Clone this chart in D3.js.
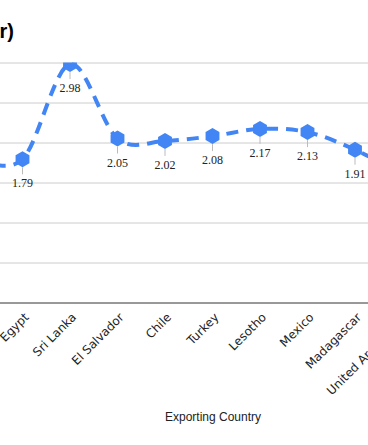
<!DOCTYPE html>
<html>
<head>
<meta charset="utf-8">
<script src="https://cdn.jsdelivr.net/npm/d3@7"></script>
<style>
  html, body { margin: 0; padding: 0; background: #fff; overflow: hidden; }
  svg { display: block; }
</style>
</head>
<body>
<svg id="chart" width="368" height="445"></svg>
<script>
// ---- Data (chart is cropped on both sides) ----
const categories = ["India", "Egypt", "Sri Lanka", "El Salvador", "Chile", "Turkey", "Lesotho", "Mexico", "Madagascar", "United Arab Emirates"];
const prices = [1.81, 1.79, 2.98, 2.05, 2.02, 2.08, 2.17, 2.13, 1.91, 1.60];
const yTicks = [0, 0.5, 1, 1.5, 2, 2.5, 3];
const titleText = "Average Export Price by Country (USD per Dollar)";
const xTitle = "Exporting Country";

const svg = d3.select("#chart");
const plotTop = 62.5, plotBottom = 302.5, plotLeft = -60, plotRight = 440;

const x = d3.scalePoint().domain(categories).range([-25, 402.5]);
const y = d3.scaleLinear().domain([0, 3]).range([plotBottom, plotTop]);

// Title (cropped on the left)
svg.append("text")
  .attr("x", 14).attr("y", 38)
  .attr("text-anchor", "end")
  .attr("font-family", "Arial, 'Liberation Sans', sans-serif")
  .attr("font-weight", "bold")
  .attr("font-size", 20)
  .attr("fill", "#000")
  .text(titleText);

// Gridlines
const gridAxis = d3.axisLeft(y).tickValues(yTicks).tickSize(-(plotRight - plotLeft)).tickFormat(d => d.toFixed(1));
const g = svg.append("g").attr("transform", `translate(${plotLeft},0)`).call(gridAxis);
g.select(".domain").remove();
g.selectAll(".tick line").attr("stroke", d => d === 0 ? "#333" : "#ccc").attr("stroke-width", 1);
g.selectAll(".tick text").attr("font-family", "Arial, sans-serif").attr("font-size", 11).attr("fill", "#444");

// Clip for plot area
svg.append("defs").append("clipPath").attr("id", "plot")
  .append("rect").attr("x", plotLeft).attr("y", plotTop).attr("width", plotRight - plotLeft).attr("height", plotBottom - plotTop);

const data = categories.map((c, i) => ({ c, v: prices[i] }));

const plot = svg.append("g").attr("clip-path", "url(#plot)");

const line = d3.line().x(d => x(d.c)).y(d => y(d.v)).curve(d3.curveCardinal.tension(0));
plot.append("path").datum(data)
  .attr("d", line)
  .attr("fill", "none")
  .attr("stroke", "#4285f4")
  .attr("stroke-width", 4)
  .attr("stroke-dasharray", "12,8");

// Hexagon markers (pointy top)
const r = 8;
const hex = d3.range(6).map(k => {
  const a = Math.PI / 2 + k * Math.PI / 3;
  return [r * Math.cos(a), r * Math.sin(a)];
});
plot.selectAll("path.marker").data(data).join("path")
  .attr("class", "marker")
  .attr("transform", d => `translate(${x(d.c)},${y(d.v)})`)
  .attr("d", "M" + hex.map(p => p.join(",")).join("L") + "Z")
  .attr("fill", "#4285f4");

// Data labels with leader lines
const lab = svg.append("g");
lab.selectAll("line").data(data).join("line")
  .attr("x1", d => x(d.c)).attr("x2", d => x(d.c))
  .attr("y1", d => y(d.v) + 8).attr("y2", d => y(d.v) + 15)
  .attr("stroke", "#bbb").attr("stroke-width", 1);
lab.selectAll("text").data(data).join("text")
  .attr("x", d => x(d.c))
  .attr("y", d => y(d.v) + 28)
  .attr("text-anchor", "middle")
  .attr("font-family", "'Liberation Serif', 'Times New Roman', serif")
  .attr("font-size", 12)
  .attr("fill", "#222")
  .text(d => d.v.toFixed(2));

// X category labels, rotated; long labels are shortened with an ellipsis
const maxLabelLen = 112;
svg.append("g").selectAll("text").data(categories).join("text")
  .attr("transform", d => `translate(${x(d) + 7},${318}) rotate(-45)`)
  .attr("text-anchor", "end")
  .attr("font-family", "'DejaVu Sans', Verdana, sans-serif")
  .attr("font-size", 12)
  .attr("fill", "#222")
  .text(d => d)
  .each(function(d) {
    const t = d3.select(this);
    if (this.getComputedTextLength() <= maxLabelLen) return;
    let s = d;
    while (s.length > 1) {
      s = s.slice(0, -1);
      t.text(s + "\u2026");
      if (this.getComputedTextLength() <= maxLabelLen) break;
    }
  });

// X axis title
svg.append("text")
  .attr("x", 213).attr("y", 421)
  .attr("text-anchor", "middle")
  .attr("font-family", "Arial, 'Liberation Sans', sans-serif")
  .attr("font-size", 12)
  .attr("fill", "#222")
  .text(xTitle);
</script>
</body>
</html>
